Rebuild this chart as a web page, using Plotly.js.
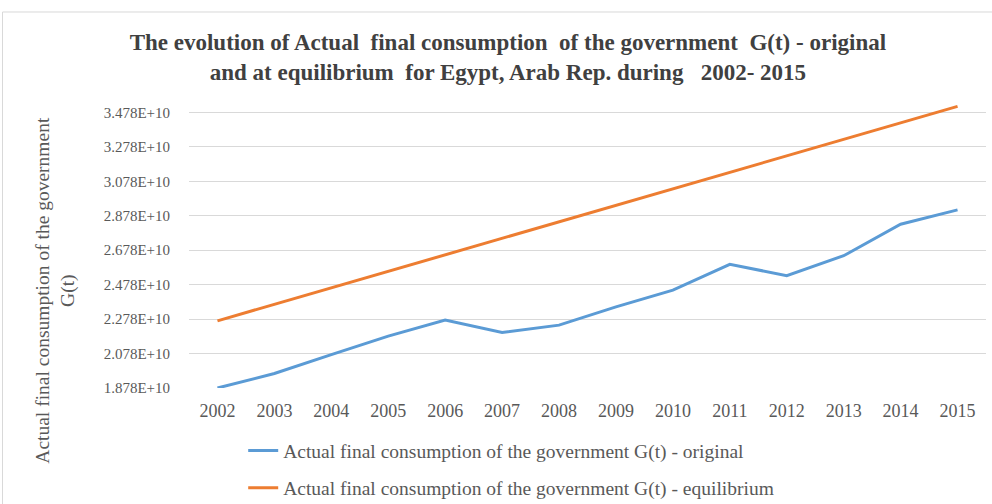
<!DOCTYPE html>
<html>
<head>
<meta charset="utf-8">
<script src="https://cdn.plot.ly/plotly-3.0.1.min.js"></script>
<style>
html,body{margin:0;padding:0;background:#fff;}
#chart{width:992px;height:504px;}
</style>
</head>
<body>
<div id="chart"></div>
<script>
var years = ['2002','2003','2004','2005','2006','2007','2008','2009','2010','2011','2012','2013','2014','2015'];
var original = [1.878e10, 1.962e10, 2.072e10, 2.179e10, 2.272e10, 2.200e10, 2.243e10, 2.349e10, 2.446e10, 2.596e10, 2.530e10, 2.646e10, 2.829e10, 2.912e10];
var equilibrium = [2.268e10, 2.364e10, 2.460e10, 2.555e10, 2.651e10, 2.747e10, 2.843e10, 2.938e10, 3.034e10, 3.130e10, 3.226e10, 3.321e10, 3.417e10, 3.513e10];
var yTickVals = [1.878e10, 2.078e10, 2.278e10, 2.478e10, 2.678e10, 2.878e10, 3.078e10, 3.278e10, 3.478e10];
var yTickText = ['1.878E+10','2.078E+10','2.278E+10','2.478E+10','2.678E+10','2.878E+10','3.078E+10','3.278E+10','3.478E+10'];
var seriesNames = ['Actual final consumption of the government G(t) - original',
                   'Actual final consumption of the government G(t) - equilibrium'];

var serif = 'Liberation Serif, Times New Roman, serif';
var traces = [
  {x: years, y: original, type: 'scatter', mode: 'lines', name: seriesNames[0],
   legendgroup: 'a', line: {color: '#5B9BD5', width: 3}},
  {x: years, y: equilibrium, type: 'scatter', mode: 'lines', name: seriesNames[1],
   legendgroup: 'b', line: {color: '#ED7D31', width: 3}}
];

var layout = {
  width: 992, height: 504,
  margin: {l: 189, r: 6, t: 100, b: 116, autoexpand: false},
  paper_bgcolor: '#ffffff', plot_bgcolor: '#ffffff',
  title: {
    text: '<b>The evolution of Actual  final consumption  of the government  G(t) - original<br>and at equilibrium  for Egypt, Arab Rep. during \u00a0 2002- 2015</b>',
    font: {family: serif, size: 23, color: '#404040'},
    x: 0.512, xanchor: 'center', xref: 'container',
    y: 0.9, yanchor: 'top', yref: 'container'
  },
  xaxis: {
    type: 'category', range: [-0.5, 13.5],
    showgrid: false, zeroline: false, showline: false, ticks: '',
    ticklabelstandoff: 10,
    tickfont: {family: serif, size: 18, color: '#595959'},
    fixedrange: true
  },
  yaxis: {
    range: [1.878e10, 3.55e10],
    tickvals: yTickVals, ticktext: yTickText,
    showgrid: true, gridcolor: '#D9D9D9', gridwidth: 1,
    zeroline: false, showline: false, ticks: '',
    ticklabelstandoff: 18,
    tickfont: {family: serif, size: 15, color: '#595959'},
    fixedrange: true
  },
  showlegend: true,
  legend: {
    orientation: 'v', x: 0.068, xanchor: 'left', y: -0.15, yanchor: 'top',
    traceorder: 'grouped', tracegroupgap: 9,
    font: {family: serif, size: 19.5, color: '#595959'},
    bgcolor: 'rgba(0,0,0,0)'
  },
  annotations: [{
    text: 'Actual final consumption of the government<br>G(t)',
    textangle: -90, xref: 'paper', yref: 'paper',
    x: -0.1686, y: 0.34, xanchor: 'center', yanchor: 'middle',
    showarrow: false,
    font: {family: serif, size: 19.5, color: '#595959'}
  }],
  shapes: [{
    type: 'rect', xref: 'paper', yref: 'paper',
    x0: -0.234, x1: 1.03, y0: -0.45, y1: 1.3056,
    line: {color: '#D9D9D9', width: 1}, fillcolor: 'rgba(0,0,0,0)', layer: 'below'
  }]
};

Plotly.newPlot('chart', traces, layout, {displayModeBar: false, staticPlot: true});
</script>
</body>
</html>
